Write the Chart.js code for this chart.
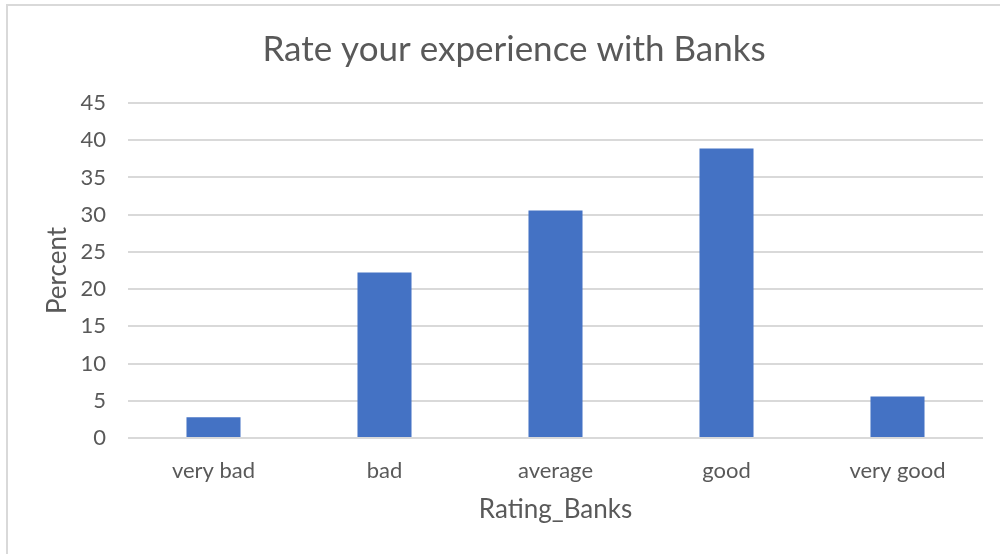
<!DOCTYPE html>
<html>
<head>
<meta charset="utf-8">
<script src="https://cdn.jsdelivr.net/npm/chart.js@4.4.1/dist/chart.umd.min.js"></script>
<style>
  html, body { margin: 0; padding: 0; background: #ffffff; }
  #wrap { position: relative; width: 1000px; height: 554px; overflow: hidden; }
  #frame { position: absolute; left: 6px; top: 4px; width: 1000px; height: 600px;
           border-left: 2px solid #d9d9d9; border-top: 2px solid #d9d9d9; box-sizing: border-box; }
  canvas { position: absolute; left: 0; top: 0; }
</style>
</head>
<body>
<div id="wrap">
  <canvas id="chart" width="1000" height="554"></canvas>
  <div id="frame"></div>
</div>
<script>
// Survey answers for the banks question (percent of respondents)
const categories = ['very bad', 'bad', 'average', 'good', 'very good'];
const percentValues = [2.78, 22.22, 30.56, 38.89, 5.56];
const yTicks = [0, 5, 10, 15, 20, 25, 30, 35, 40, 45];

const FONT = 'Lato, "Open Sans", sans-serif';
const TEXT = '#595959';
const GRID = '#d9d9d9';

new Chart(document.getElementById('chart'), {
  type: 'bar',
  data: {
    labels: categories,
    datasets: [{
      label: 'Percent',
      data: percentValues,
      backgroundColor: '#4472c4',
      borderWidth: 0,
      categoryPercentage: 1,
      barPercentage: 0.316
    }]
  },
  options: {
    responsive: false,
    animation: false,
    layout: { padding: { left: 45, right: 17, top: 0, bottom: 29 } },
    plugins: {
      legend: { display: false },
      tooltip: { enabled: false },
      title: {
        display: true,
        text: 'Rate your experience with Banks',
        color: TEXT,
        font: { family: FONT, size: 35, weight: 'normal' },
        padding: { top: 29, bottom: 32 }
      }
    },
    scales: {
      x: {
        grid: { display: false },
        border: { display: false },
        ticks: { color: TEXT, font: { family: FONT, size: 22 }, padding: 12 },
        title: {
          display: true, text: 'Rating_Banks', color: TEXT,
          font: { family: FONT, size: 26 }, padding: { top: 0, bottom: 0 }
        },
        afterFit: s => { s.height = 87; }
      },
      y: {
        min: 0, max: 45,
        afterBuildTicks: s => { s.ticks = yTicks.map(v => ({ value: v })); },
        grid: { color: GRID, lineWidth: 2, drawTicks: false },
        border: { display: false },
        ticks: { color: TEXT, font: { family: FONT, size: 22 }, padding: 22 },
        title: {
          display: true, text: 'Percent', color: TEXT,
          font: { family: FONT, size: 26 }, padding: { top: -3, bottom: 0 }
        },
        afterFit: s => { s.width = 83; }
      }
    }
  }
});
</script>
</body>
</html>
